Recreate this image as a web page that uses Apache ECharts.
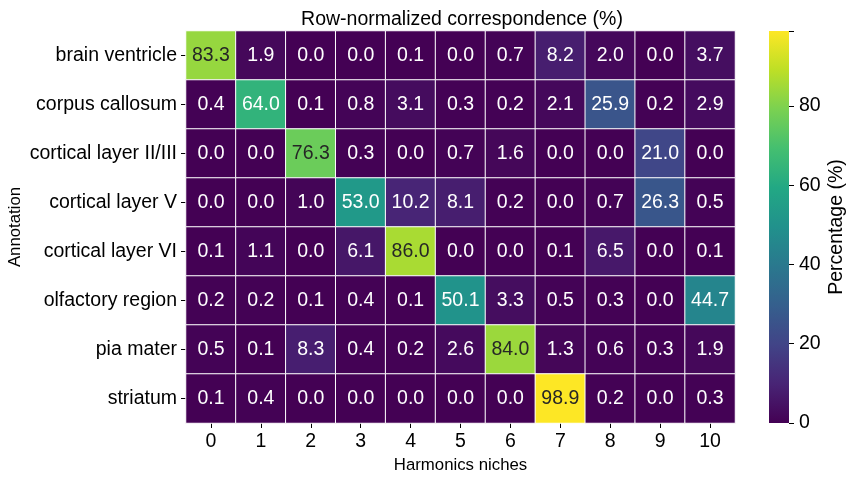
<!DOCTYPE html>
<html>
<head>
<meta charset="utf-8">
<script src="https://cdn.jsdelivr.net/npm/echarts@6/dist/echarts.min.js"></script>
<style>
  html, body { margin: 0; padding: 0; background: #fff; }
  #main { width: 853px; height: 480px; }
</style>
</head>
<body>
<div id="main"></div>
<script>
// 行：注释区域；列：harmonics niches
const annotations = [
  'brain ventricle',
  'corpus callosum',
  'cortical layer II/III',
  'cortical layer V',
  'cortical layer VI',
  'olfactory region',
  'pia mater',
  'striatum'
]
const niches = ['0', '1', '2', '3', '4', '5', '6', '7', '8', '9', '10']

const rowBrainVentricle = [83.3, 1.9, 0.0, 0.0, 0.1, 0.0, 0.7, 8.2, 2.0, 0.0, 3.7]
const rowCorpusCallosum = [0.4, 64.0, 0.1, 0.8, 3.1, 0.3, 0.2, 2.1, 25.9, 0.2, 2.9]
const rowCorticalII = [0.0, 0.0, 76.3, 0.3, 0.0, 0.7, 1.6, 0.0, 0.0, 21.0, 0.0]
const rowCorticalV = [0.0, 0.0, 1.0, 53.0, 10.2, 8.1, 0.2, 0.0, 0.7, 26.3, 0.5]
const rowCorticalVI = [0.1, 1.1, 0.0, 6.1, 86.0, 0.0, 0.0, 0.1, 6.5, 0.0, 0.1]
const rowOlfactory = [0.2, 0.2, 0.1, 0.4, 0.1, 50.1, 3.3, 0.5, 0.3, 0.0, 44.7]
const rowPiaMater = [0.5, 0.1, 8.3, 0.4, 0.2, 2.6, 84.0, 1.3, 0.6, 0.3, 1.9]
const rowStriatum = [0.1, 0.4, 0.0, 0.0, 0.0, 0.0, 0.0, 98.9, 0.2, 0.0, 0.3]

const colorbarTicks = [0, 20, 40, 60, 80]

const rows = [
  rowBrainVentricle, rowCorpusCallosum, rowCorticalII, rowCorticalV,
  rowCorticalVI, rowOlfactory, rowPiaMater, rowStriatum
]

const viridis = [
  '#440154', '#482475', '#414487', '#355f8d', '#2a788e', '#21918c',
  '#22a884', '#44bf70', '#7ad151', '#bddf26', '#fde725'
]

const FONT = 'Liberation Sans, Arial, sans-serif'
let vmax = 0
rows.forEach((r) => r.forEach((v) => { if (v > vmax) vmax = v }))

const cells = []
rows.forEach((r, i) => {
  r.forEach((v, j) => {
    cells.push({
      value: [j, i, v],
      label: { color: v > 70 ? '#262626' : '#ffffff' }
    })
  })
})

// 色条：用同一组 viridis 做竖向渐变（底部=0，顶部=最大值）
const barStops = viridis.map((c, k) => ({ offset: 1 - k / (viridis.length - 1), color: c }))

const chart = echarts.init(document.getElementById('main'))
const option = {
  animation: false,
  backgroundColor: '#fff',
  textStyle: { fontFamily: FONT },
  title: {
    text: 'Row-normalized correspondence (%)',
    left: 457, top: 5,
    textAlign: 'center',
    textStyle: { fontSize: 19.5, fontWeight: 'normal', color: '#000', fontFamily: FONT }
  },
  grid: [
    { left: 186, top: 31, width: 549, height: 392, outerBoundsMode: 'none' },
    { left: 769, top: 31, width: 20, height: 392, outerBoundsMode: 'none' }
  ],
  xAxis: [
    {
      type: 'category', gridIndex: 0, data: niches,
      name: 'Harmonics niches', nameLocation: 'middle', nameGap: 34,
      nameMoveOverlap: false,
      nameTextStyle: { fontSize: 16.8, color: '#000' },
      axisLine: { show: false },
      axisTick: { show: true, alignWithLabel: true, length: 5, lineStyle: { color: '#000' } },
      axisLabel: { fontSize: 19.5, color: '#000', margin: 9 },
      splitLine: { show: false }
    },
    { type: 'value', gridIndex: 1, show: false, min: 0, max: 1 }
  ],
  yAxis: [
    {
      type: 'category', gridIndex: 0, data: annotations, inverse: true,
      name: 'Annotation', nameLocation: 'middle', nameGap: 162, nameRotate: 90,
      nameMoveOverlap: false,
      nameTextStyle: { fontSize: 16.8, color: '#000' },
      axisLine: { show: false },
      axisTick: { show: true, alignWithLabel: true, length: 5, lineStyle: { color: '#000' } },
      axisLabel: { fontSize: 19.5, color: '#000', margin: 9 },
      splitLine: { show: false }
    },
    {
      type: 'value', gridIndex: 1, position: 'right', min: 0, max: vmax, interval: 20,
      name: 'Percentage (%)', nameLocation: 'middle', nameGap: 38, nameRotate: 90,
      nameMoveOverlap: false,
      nameTextStyle: { fontSize: 19.5, color: '#000' },
      axisLine: { show: false, onZero: false },
      axisTick: { show: true, length: 5, lineStyle: { color: '#000' } },
      axisLabel: {
        fontSize: 19.5, color: '#000', margin: 10,
        formatter: (v) => (colorbarTicks.indexOf(v) >= 0 ? String(v) : '')
      },
      splitLine: { show: false }
    }
  ],
  visualMap: {
    type: 'continuous',
    show: false,
    min: 0, max: vmax,
    seriesIndex: 0,
    inRange: { color: viridis }
  },
  graphic: [
    {
      type: 'rect',
      shape: { x: 769, y: 31, width: 20, height: 392 },
      style: { fill: new echarts.graphic.LinearGradient(0, 0, 0, 1, barStops) },
      z: -1
    }
  ],
  series: [
    {
      type: 'heatmap',
      xAxisIndex: 0, yAxisIndex: 0,
      data: cells,
      label: {
        show: true, fontSize: 19.5, fontFamily: FONT,
        formatter: (p) => p.value[2].toFixed(1)
      },
      itemStyle: { borderColor: '#ffffff', borderWidth: 1 },
      emphasis: { disabled: true }
    }
  ]
}
chart.setOption(option)
</script>
</body>
</html>
